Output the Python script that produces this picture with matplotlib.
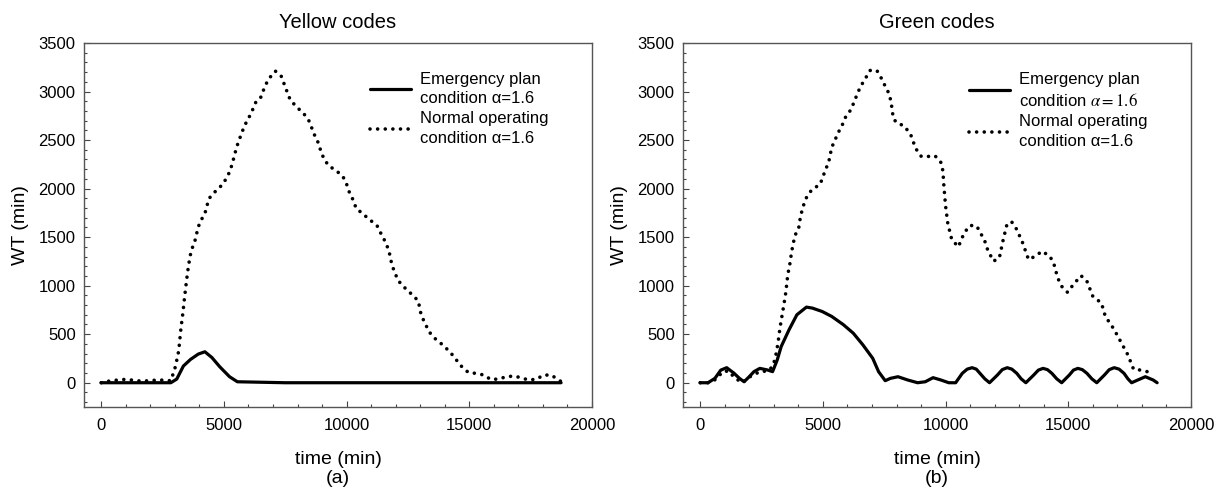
#!/usr/bin/env python3
# Waiting time (WT) for yellow and green codes, emergency vs normal operation
import matplotlib
matplotlib.use('Agg')
import matplotlib.pyplot as plt
from matplotlib.ticker import MultipleLocator

# ------------------------------------------------------------------------------
# Data (time in min, WT in min)
# ------------------------------------------------------------------------------
# Yellow codes - normal operating condition
yel_norm_t = [0, 320, 640, 960, 1280, 1600, 1920, 2240, 2560, 2840, 3030, 3160,
              3250, 3330, 3400, 3480, 3560, 3670, 3800, 3955, 4070, 4225, 4390,
              4630, 4940, 5120, 5260, 5360, 5520, 5740, 5870, 6030, 6190, 6320,
              6510, 6670, 6830, 7100, 7340, 7580, 7700, 7940, 8260, 8470, 8710,
              8850, 8950, 9090, 9300, 9570, 9860, 10020, 10130, 10290, 10380,
              10650, 10970, 11240, 11400, 11560, 11720, 11850, 12090, 12330,
              12650, 12920, 13040, 13200, 13360, 13600, 13890, 14210, 14670,
              14960, 15280, 15600, 15870, 16190, 16510, 16830, 17110, 17430,
              17750, 18020, 18340, 18710]
yel_norm_wt = [0, 17, 27, 34, 27, 17, 20, 27, 27, 20, 170, 330, 560, 720, 885,
               1056, 1210, 1365, 1440, 1605, 1674, 1742, 1897, 1965, 2041, 2113,
               2188, 2274, 2428, 2583, 2662, 2737, 2823, 2902, 2943, 3053, 3132,
               3210, 3156, 2994, 2916, 2847, 2771, 2696, 2542, 2470, 2387, 2298,
               2229, 2188, 2120, 2034, 1948, 1873, 1800, 1742, 1674, 1619, 1537,
               1461, 1365, 1210, 1056, 988, 912, 844, 696, 611, 525, 456, 395,
               319, 172, 106, 96, 79, 34, 38, 62, 69, 51, 27, 38, 79, 79, 17]

# Yellow codes - emergency plan condition
yel_emer_t = [0, 2840, 3080, 3350, 3640, 3955, 4225, 4510, 4830, 5230, 5550,
              7500, 18740]
yel_emer_wt = [0, 0, 38, 172, 240, 295, 319, 260, 165, 62, 10, 0, 0]

# Green codes - normal operating condition
grn_norm_t = [0, 317, 635, 920, 1160, 1400, 1710, 2030, 2430, 2750, 2950, 3060,
              3170, 3250, 3330, 3410, 3490, 3570, 3650, 3730, 3860, 4010, 4090,
              4210, 4330, 4540, 4890, 5090, 5240, 5360, 5630, 5790, 5920, 6160,
              6280, 6520, 6740, 6920, 7200, 7380, 7540, 7700, 7780, 7870, 8010,
              8300, 8570, 8780, 9010, 9280, 9570, 9810, 9890, 9930, 10000,
              10090, 10250, 10520, 10760, 11000, 11270, 11590, 11710, 11950,
              12190, 12350, 12510, 12700, 12900, 13140, 13380, 13650, 13930,
              14250, 14410, 14570, 14730, 14970, 15200, 15520, 15760, 16000,
              16350, 16510, 16790, 16950, 17430, 17660, 17930, 18220, 18430]
grn_norm_wt = [0, 0, 34, 114, 121, 52, 0, 62, 114, 121, 166, 252, 407, 562, 683,
               803, 931, 1114, 1217, 1355, 1517, 1586, 1717, 1827, 1907, 1986,
               2045, 2183, 2276, 2424, 2579, 2655, 2734, 2820, 2900, 3045, 3138,
               3217, 3217, 3138, 3055, 2976, 2890, 2724, 2676, 2648, 2562, 2414,
               2331, 2331, 2338, 2269, 2183, 2027, 1820, 1641, 1476, 1400, 1545,
               1621, 1614, 1465, 1372, 1252, 1286, 1476, 1641, 1655, 1579, 1441,
               1269, 1303, 1355, 1303, 1227, 1079, 993, 931, 1010, 1103, 1045,
               890, 821, 683, 579, 510, 286, 138, 131, 114, 62]

# Green codes - emergency plan condition
grn_emer_t = [0, 320, 600, 840, 1080, 1370, 1600, 1790, 1990, 2190, 2430, 2750,
              2950, 3140, 3300, 3620, 3940, 4330, 4570, 4970, 5360, 5840, 6240,
              6630, 7030, 7270, 7540, 7750, 8060, 8460, 8860, 9170, 9490, 9810,
              10130, 10410, 10680, 10880, 11080, 11250, 11400, 11600, 11790,
              12110, 12310, 12510, 12700, 12900, 13080, 13270, 13590, 13780,
              13970, 14150, 14330, 14530, 14730, 15040, 15210, 15390, 15570,
              15760, 15960, 16160, 16470, 16670, 16870, 17070, 17270, 17430,
              17580, 17830, 18140, 18460, 18620]
grn_emer_wt = [0, 0, 45, 130, 155, 100, 45, 10, 60, 114, 148, 131, 114, 235,
               372, 545, 700, 779, 769, 734, 683, 597, 510, 390, 252, 114, 21,
               45, 62, 28, 0, 10, 52, 28, 0, 0, 97, 140, 155, 140, 97, 40, 0, 79,
               135, 155, 140, 97, 40, 0, 79, 130, 148, 135, 97, 40, 0, 79, 130,
               148, 135, 97, 40, 0, 79, 135, 155, 140, 97, 40, 0, 28, 62, 28, 0]

titles = ['Yellow codes', 'Green codes']
panel_tags = ['(a)', '(b)']
emer_labels = ['Emergency plan\ncondition \u03b1=1.6',
               'Emergency plan\ncondition $\\alpha{=}1.6$']
norm_label = 'Normal operating\ncondition \u03b1=1.6'

# ------------------------------------------------------------------------------
# Plot
# ------------------------------------------------------------------------------
plt.rcParams['font.family'] = ['Liberation Sans', 'DejaVu Sans']
plt.rcParams['mathtext.fontset'] = 'stix'
plt.rcParams['font.size'] = 12

fig = plt.figure(figsize=(12.22, 4.96), dpi=100)
ax_pos = [[84 / 1222, 89 / 496, 508 / 1222, 364 / 496],
          [683 / 1222, 89 / 496, 508 / 1222, 364 / 496]]

data = [(yel_emer_t, yel_emer_wt, yel_norm_t, yel_norm_wt),
        (grn_emer_t, grn_emer_wt, grn_norm_t, grn_norm_wt)]

for i in range(2):
    ax = fig.add_axes(ax_pos[i])
    et, ew, nt, nw = data[i]
    ax.plot(et, ew, color='black', lw=2.3, label=emer_labels[i],
            solid_joinstyle='round', solid_capstyle='round')
    ax.plot(nt, nw, color='black', lw=2.6, linestyle=(0, (0.01, 2.1)),
            dash_capstyle='round', label=norm_label)

    ax.set_xlim(-700, 20000)
    ax.set_ylim(-250, 3500)
    ax.xaxis.set_major_locator(MultipleLocator(5000))
    ax.xaxis.set_minor_locator(MultipleLocator(1000))
    ax.yaxis.set_major_locator(MultipleLocator(500))
    ax.yaxis.set_minor_locator(MultipleLocator(100))
    ax.tick_params(which='both', direction='in', top=False, right=False,
                   color='#444444', labelsize=12)
    ax.tick_params(which='major', length=4.5, width=0.8)
    ax.tick_params(axis='x', which='major', pad=8)
    ax.tick_params(axis='y', which='major', pad=6)
    ax.tick_params(which='minor', length=2, width=0.8)
    for sp in ax.spines.values():
        sp.set_color('#555555')
        sp.set_linewidth(1.0)

    ax.set_title(titles[i], fontsize=14.5, pad=11)
    ax.set_xlabel('time (min)\n' + panel_tags[i], fontsize=14,
                  linespacing=1.15, labelpad=13)
    ax.set_ylabel('WT (min)', fontsize=14, labelpad=7)

    leg = ax.legend(loc='upper right', frameon=False, fontsize=12,
                    handlelength=2.45, handletextpad=0.55, labelspacing=0.3,
                    borderaxespad=0.0, bbox_to_anchor=(0.927, 0.94))
    for txt in leg.get_texts():
        txt.set_linespacing(1.4)

fig.savefig('out.png', dpi=100)
